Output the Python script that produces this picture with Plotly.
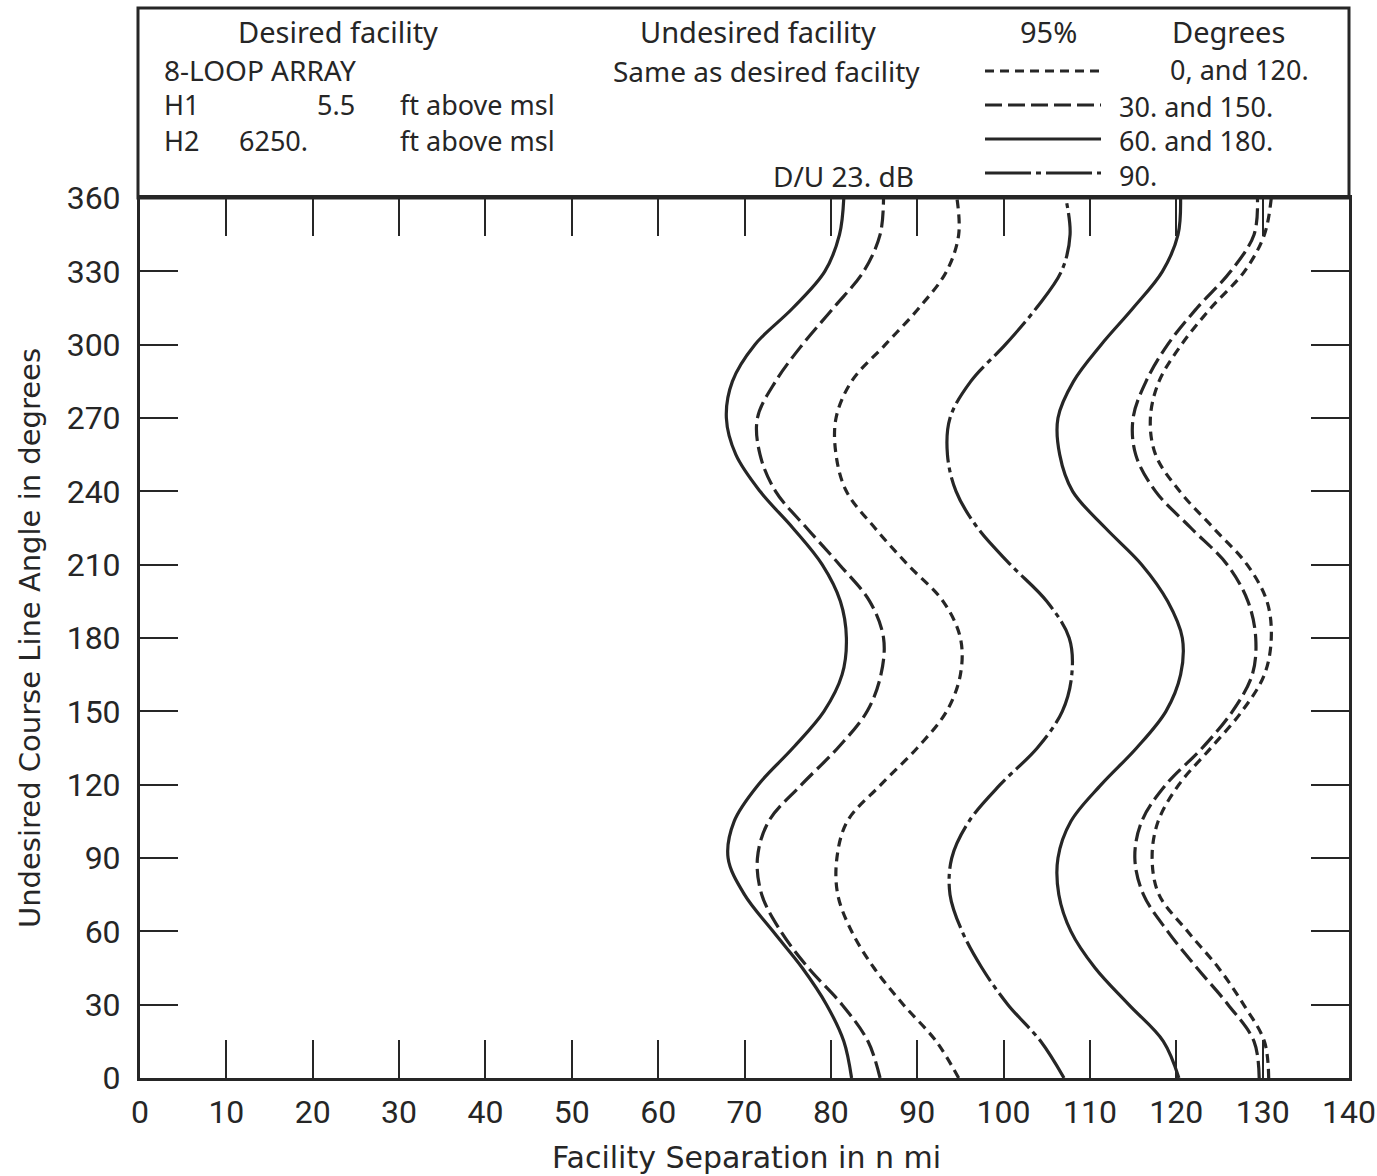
import plotly.graph_objects as go

# Undesired course line angle (degrees) at which each curve is sampled
angles = list(range(0, 361, 15))

# Facility separation (n mi) per curve
sep_0_120_inner = [94.8, 92.2, 88.4, 85.0, 82.4, 80.8, 80.7, 81.9, 85.8, 90.0, 93.4, 95.0, 95.0,
                   93.0, 88.9, 85.1, 81.8, 80.6, 80.6, 82.4, 86.3, 90.2, 93.4, 94.8, 94.6]
sep_0_120_outer = [130.7, 130.2, 127.8, 124.9, 121.3, 118.0, 117.2, 117.9, 120.3, 124.0, 127.6, 130.2, 131.0,
                   130.5, 128.2, 124.3, 120.4, 117.6, 117.0, 118.0, 120.6, 124.0, 127.9, 130.2, 131.0]
sep_30_150_inner = [85.7, 84.3, 81.3, 77.4, 74.2, 72.0, 71.5, 72.8, 76.6, 80.8, 84.2, 85.8, 86.1,
                    84.5, 81.0, 77.2, 73.6, 71.8, 71.5, 73.6, 76.7, 80.3, 83.8, 85.7, 86.1]
sep_30_150_outer = [129.6, 129.0, 126.0, 122.4, 119.0, 116.2, 115.2, 116.0, 118.8, 123.0, 126.5, 128.8, 129.2,
                    128.3, 125.9, 121.7, 117.6, 115.3, 115.0, 116.5, 119.0, 122.4, 126.3, 129.0, 129.4]
sep_60_180_inner = [82.4, 81.5, 79.5, 76.7, 73.3, 70.0, 68.1, 68.8, 71.6, 75.6, 79.2, 81.3, 81.8,
                    81.1, 79.0, 75.6, 71.8, 69.0, 67.9, 68.6, 71.2, 75.6, 79.3, 81.0, 81.5]
sep_60_180_outer = [120.3, 118.5, 114.5, 110.6, 107.8, 106.4, 106.3, 107.8, 111.3, 115.4, 118.8, 120.5, 120.7,
                    119.0, 116.0, 111.8, 108.0, 106.5, 106.3, 108.1, 111.3, 115.0, 118.4, 120.2, 120.5]
sep_90 = [107.0, 104.3, 100.5, 97.5, 95.2, 93.8, 94.0, 96.0, 99.6, 103.9, 106.8, 107.9, 107.6,
          105.0, 100.8, 97.0, 94.5, 93.5, 93.8, 96.2, 100.2, 103.8, 106.7, 107.7, 107.2]

x_ticks = list(range(0, 141, 10))
y_ticks = list(range(0, 361, 30))

INK = "#262626"
SHORT = "9px,6px"
LONG = "17px,6px"
DASHDOT = "46px,5px,5px,5px"

W, H = 1377, 1176
L, R, T, B = 140, 1349, 198, 1078


def px(x):
    return (x - L) / (R - L)


def py(y):
    return (B - y) / (B - T)


fig = go.Figure()

curves = [
    (sep_60_180_inner, "solid"),
    (sep_30_150_inner, LONG),
    (sep_0_120_inner, SHORT),
    (sep_90, DASHDOT),
    (sep_60_180_outer, "solid"),
    (sep_30_150_outer, LONG),
    (sep_0_120_outer, SHORT),
]
for xs, dash in curves:
    fig.add_trace(go.Scatter(
        x=xs, y=angles, mode="lines",
        line=dict(color=INK, width=3.2, dash=dash, shape="spline", smoothing=1.0),
        showlegend=False, hoverinfo="skip",
    ))

tick_font = dict(family="Roboto, Liberation Sans, sans-serif", size=32, color=INK)

fig.update_xaxes(
    range=[0, 140], tickvals=x_ticks, ticktext=[str(v) for v in x_ticks],
    ticks="inside", ticklen=38, tickwidth=1.6, tickcolor=INK,
    showline=True, linewidth=3, linecolor=INK, mirror="ticks",
    showgrid=False, zeroline=False, tickfont=tick_font,
    ticklabelstandoff=4, ticklabeloverflow="allow", automargin=False,
)
fig.update_yaxes(
    range=[0, 360], tickvals=y_ticks, ticktext=[str(v) for v in y_ticks],
    ticks="inside", ticklen=38, tickwidth=1.6, tickcolor=INK,
    showline=True, linewidth=3, linecolor=INK, mirror="ticks",
    showgrid=False, zeroline=False, tickfont=tick_font,
    ticklabelstandoff=10, ticklabeloverflow="allow", automargin=False,
)

# Header box above the plotting area
fig.add_shape(type="rect", xref="paper", yref="paper",
              x0=px(138), x1=px(1349), y0=py(198), y1=py(8),
              line=dict(color=INK, width=3), fillcolor="rgba(0,0,0,0)")

# Line-style key in the header
key_rows = [(71, SHORT), (105, LONG), (139, "solid"), (173, DASHDOT)]
for yk, dash in key_rows:
    fig.add_shape(type="line", xref="paper", yref="paper",
                  x0=px(985), x1=px(1101), y0=py(yk), y1=py(yk),
                  line=dict(color=INK, width=3, dash=dash))


def hfont(size):
    return dict(family="Noto Sans, DejaVu Sans, sans-serif", size=size, color=INK)


def note(text, x, y, anchor="center", font=None, angle=0):
    fig.add_annotation(text=text, xref="paper", yref="paper", x=px(x), y=py(y),
                       xanchor=anchor, yanchor="middle", showarrow=False,
                       font=font or hfont(28), textangle=angle, borderpad=0)


note("Desired facility", 338, 31, font=hfont(29))
note("8-LOOP ARRAY", 163, 70, "left", hfont(28))
note("H1", 163, 105, "left", hfont(27))
note("5.5", 356, 105, "right", hfont(27))
note("ft above msl", 556, 105, "right", hfont(27))
note("H2", 163, 140, "left", hfont(27))
note("6250.", 238, 140, "left", hfont(27))
note("ft above msl", 556, 140, "right", hfont(27))
note("Undesired facility", 758, 31, font=hfont(29))
note("Same as desired facility", 766, 71)
note("D/U 23. dB", 843, 176, font=hfont(28))
note("95%", 1048, 31, font=hfont(29))
note("Degrees", 1228, 31, font=hfont(29))
note("0, and 120.", 1310, 70, "right", hfont(27))
note("30. and 150.", 1118, 106, "left", hfont(27))
note("60. and 180.", 1118, 140, "left", hfont(27))
note("90.", 1118, 175, "left", hfont(27))

title_font_x = dict(family="DejaVu Sans, sans-serif", size=30, color=INK)
title_font_y = dict(family="DejaVu Sans, sans-serif", size=29, color=INK)
note("Facility Separation in n mi", 746, 1157, font=title_font_x)
note("Undesired Course Line Angle in degrees", 30, 638, font=title_font_y, angle=-90)

fig.update_layout(
    width=W, height=H,
    margin=dict(l=L, r=W - R, t=T, b=H - B, pad=0, autoexpand=False),
    paper_bgcolor="white", plot_bgcolor="white",
    showlegend=False,
)

fig.write_html("out.html")
